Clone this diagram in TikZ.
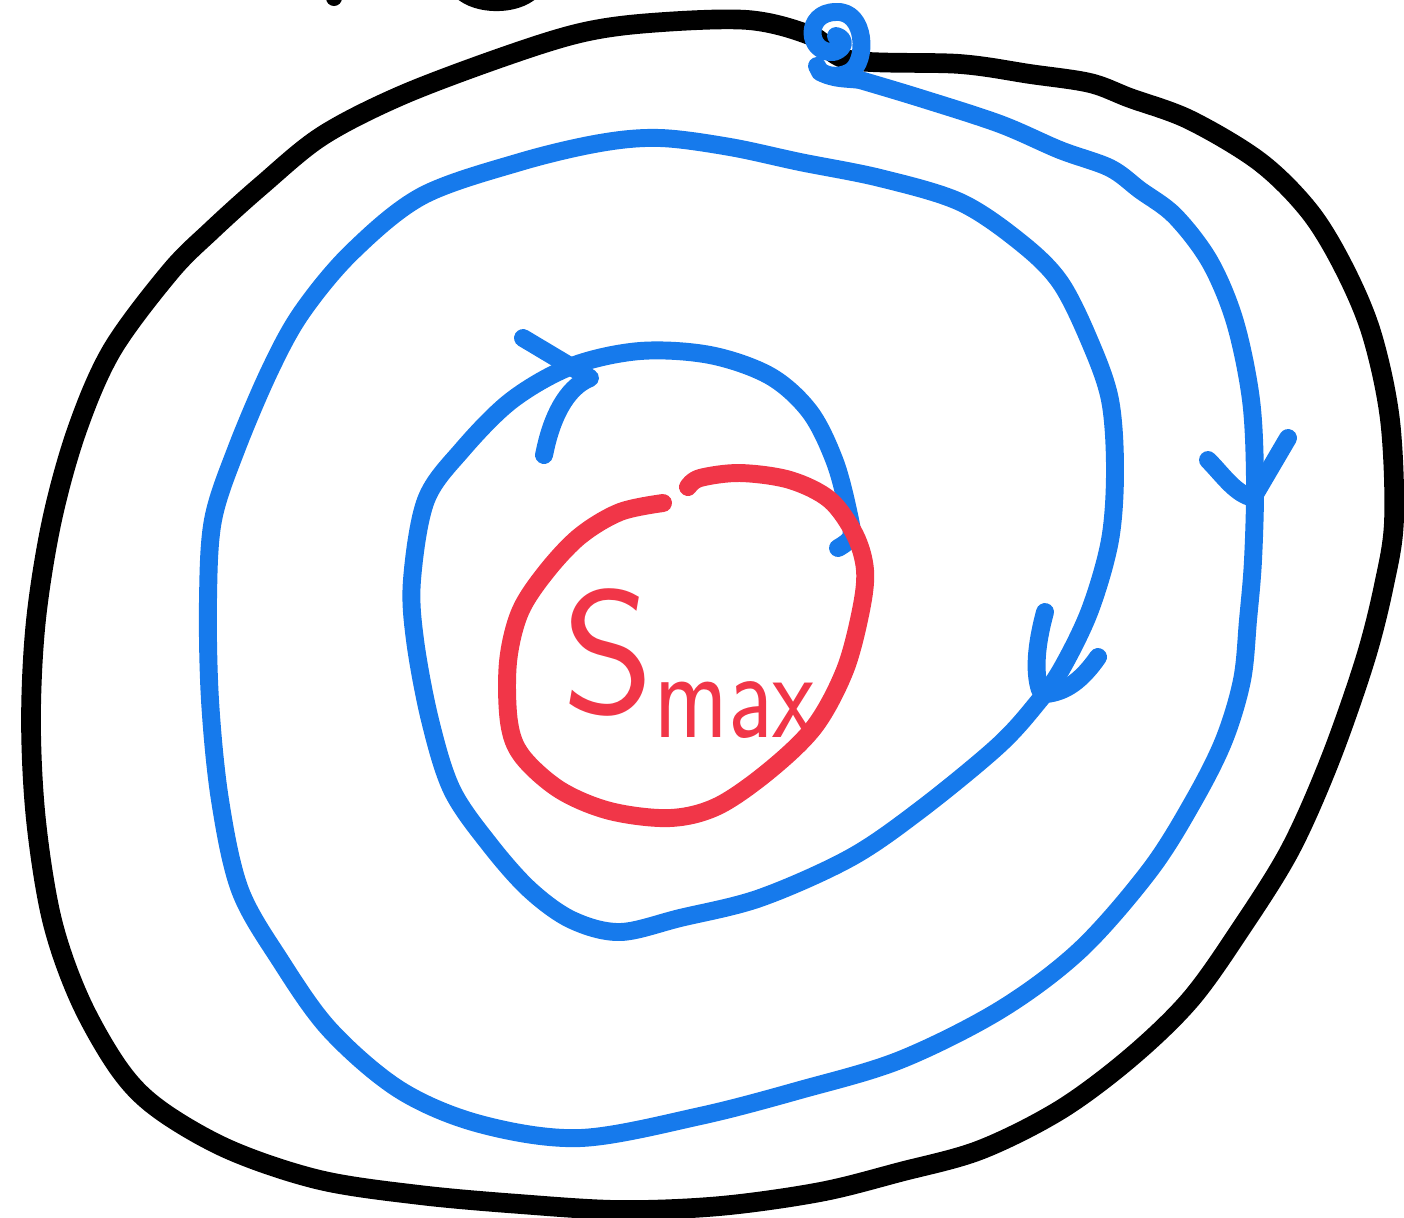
\documentclass[tikz,border=0pt]{standalone}
\usepackage{tikz}
\usepackage{graphicx}
\usepackage{xcolor}
\usetikzlibrary{arrows.meta, positioning, calc}

\definecolor{penblue}{RGB}{22,122,236}
\definecolor{penred}{RGB}{241,54,72}

\begin{document}
\begin{tikzpicture}[
  x=0.01cm, y=-0.01cm,
  line cap=round, line join=round,
  outline/.style={black, line width=5.6pt},
  spiral/.style={penblue, line width=5.1pt},
  core/.style={penred, line width=5.1pt},
  lbl/.style={penred, inner sep=0pt, font=\sffamily}
]
\useasboundingbox (0,0) rectangle (1404,1217);
% cut-off marks at the top edge
\fill (334,-2) circle (8);
\draw[outline] (462,-10) .. controls (478,5) and (515,5) .. (531,-10);
% outer black boundary
\draw[outline] plot[smooth cycle, tension=0.55] coordinates {
  (850,60) (960,64) (1030,74) (1090,83) (1130,98) (1190,120) (1260,162)
  (1310,212) (1345,270) (1372,335) (1390,420) (1394,520) (1384,585)
  (1365,660) (1330,760) (1290,850) (1240,930) (1190,1000) (1130,1058)
  (1060,1110) (980,1150) (900,1172) (820,1192) (720,1206) (620,1210)
  (520,1204) (420,1195) (320,1180) (230,1150) (160,1110) (120,1070)
  (80,1000) (52,920) (36,820) (31,720) (36,620) (52,520) (77,430)
  (112,350) (170,272) (212,230) (262,185) (322,136) (400,96) (500,58)
  (580,33) (650,23) (748,20) (812,36)};
% blue spiral, from the little loop inwards
\draw[spiral] (836,36) .. controls (845,38) and (846,48) .. (834,52)
  .. controls (806,54) and (804,12) .. (836,12)
  .. controls (866,10) and (868,62) .. (850,72)
  .. controls (838,79) and (820,76) .. (817,66);
\draw[spiral] (820,72) .. controls (836,80) and (848,78) .. (860,80)
  plot[smooth, tension=0.55] coordinates {
  (860,80) (920,98) (1000,124) (1060,150) (1110,168) (1140,190) (1175,216)
  (1210,262) (1235,322) (1251,400) (1255,480) (1253,560) (1248,620)
  (1242,680) (1224,740) (1194,800) (1150,870) (1080,950) (1000,1010)
  (900,1060) (800,1090) (700,1116) (580,1138) (480,1124) (400,1090)
  (330,1030) (280,960) (240,890) (220,800) (210,700) (208,600) (213,520)
  (236,450) (270,370) (302,312) (352,252) (422,196) (520,162) (600,143)
  (660,138) (730,147) (800,162) (880,178) (960,202) (1020,242) (1060,282)
  (1090,342) (1110,400) (1115,470) (1110,540) (1090,610) (1062,668)
  (1038,702) (998,746) (920,810) (850,858) (760,898) (680,918) (620,932)
  (572,920) (530,890) (490,845) (452,790) (430,720) (415,640) (412,580)
  (426,500) (462,450) (512,400) (572,366) (640,351) (710,355) (770,376)
  (810,412) (835,462) (849,515) (851,537) (838,548)};
% arrow strokes on the spiral
\draw[spiral] (523,338) -- (590,378)
  .. controls (565,388) and (552,420) .. (546,446) -- (544,455);
\draw[spiral] (1208,460) .. controls (1222,474) and (1234,492) .. (1250,497);
\draw[spiral] (1288,438) -- (1254,496);
\draw[spiral] (1045,612) .. controls (1036,645) and (1034,672) .. (1040,690);
\draw[spiral] (1098,657) .. controls (1082,680) and (1066,692) .. (1046,694);
% red ring round the centre
\draw[core] plot[smooth, tension=0.55] coordinates {
  (663,503) (620,512) (580,536) (546,572) (520,612) (508,662) (509,722)
  (522,756) (560,790) (610,811) (670,818) (718,806) (770,770) (815,726)
  (845,670) (861,610) (865,570) (855,535) (830,500) (790,480) (740,473)
  (700,478) (688,487)};
\node[lbl, anchor=base west] (smax) at (562,713)
  {\fontsize{50}{50}\selectfont S\raisebox{-7pt}{\scalebox{0.78}[1]{\fontsize{36}{36}\selectfont max}}};
\end{tikzpicture}
\end{document}
